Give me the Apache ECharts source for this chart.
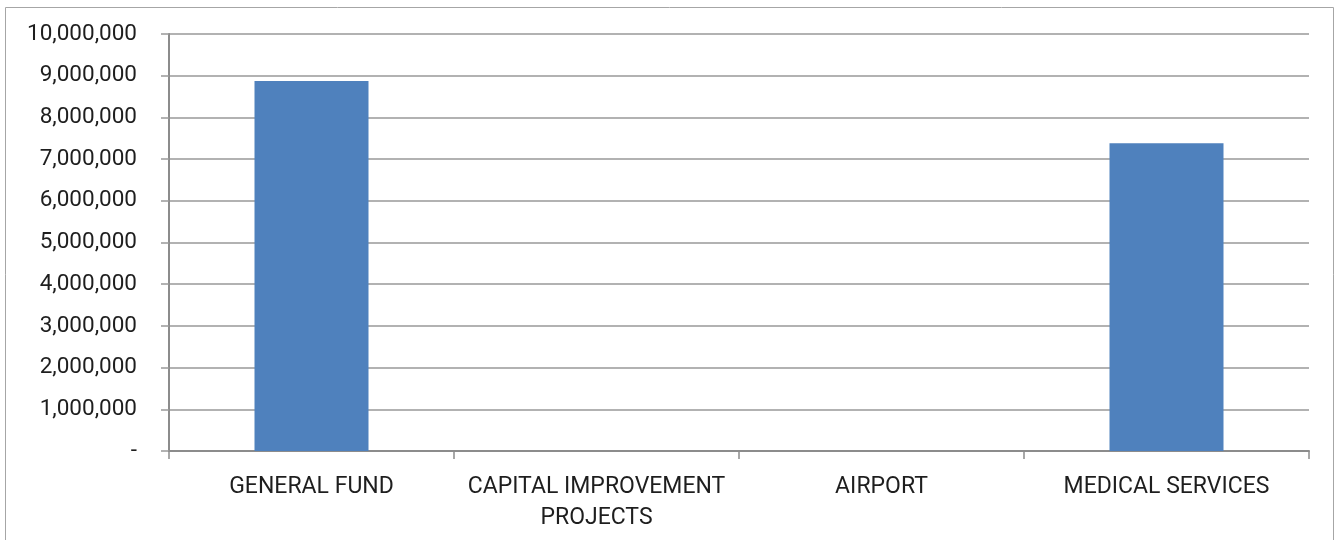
<!DOCTYPE html>
<html>
<head>
<meta charset="utf-8">
<script src="https://cdn.jsdelivr.net/npm/echarts@6/dist/echarts.min.js"></script>
<style>
  html, body { margin: 0; padding: 0; background: #fff; }
  #chart { width: 1335px; height: 540px; }
</style>
</head>
<body>
<div id="chart"></div>
<script>
// Fund categories and their amounts
const categories = ['GENERAL FUND', 'CAPITAL IMPROVEMENT\nPROJECTS', 'AIRPORT', 'MEDICAL SERVICES'];
const amounts = [8870000, 0, 0, 7380000];

const chart = echarts.init(document.getElementById('chart'), null, { renderer: 'canvas' });

const fmt = v => v === 0 ? '-' : v.toLocaleString('en-US');

chart.setOption({
  animation: false,
  textStyle: { fontFamily: 'Roboto' },
  graphic: [{
    type: 'rect',
    shape: { x: 5.5, y: 7.5, width: 1328, height: 600 },
    style: { fill: 'none', stroke: '#a6a6a6', lineWidth: 1 },
    silent: true
  }],
  grid: { left: 169, right: 26, top: 34, bottom: 89 },
  xAxis: {
    type: 'category',
    data: categories,
    axisLine: { show: true, lineStyle: { color: '#8c8c8c', width: 2 } },
    axisTick: { show: true, length: 8, lineStyle: { color: '#8c8c8c', width: 1.5 } },
    axisLabel: {
      color: '#1e1e1e',
      fontSize: 23,
      lineHeight: 31,
      margin: 21,
      interval: 0
    }
  },
  yAxis: {
    type: 'value',
    min: 0,
    max: 10000000,
    interval: 1000000,
    axisLine: { show: true, lineStyle: { color: '#8c8c8c', width: 2 } },
    axisTick: { show: true, length: 8, lineStyle: { color: '#999', width: 1.5 } },
    splitLine: { show: true, lineStyle: { color: '#999', width: 1.5 } },
    axisLabel: {
      color: '#1e1e1e',
      fontSize: 22.5,
      margin: 32,
      formatter: fmt
    }
  },
  series: [{
    type: 'bar',
    data: amounts,
    barWidth: '40%',
    itemStyle: { color: '#4f81bd' }
  }]
});
</script>
</body>
</html>
